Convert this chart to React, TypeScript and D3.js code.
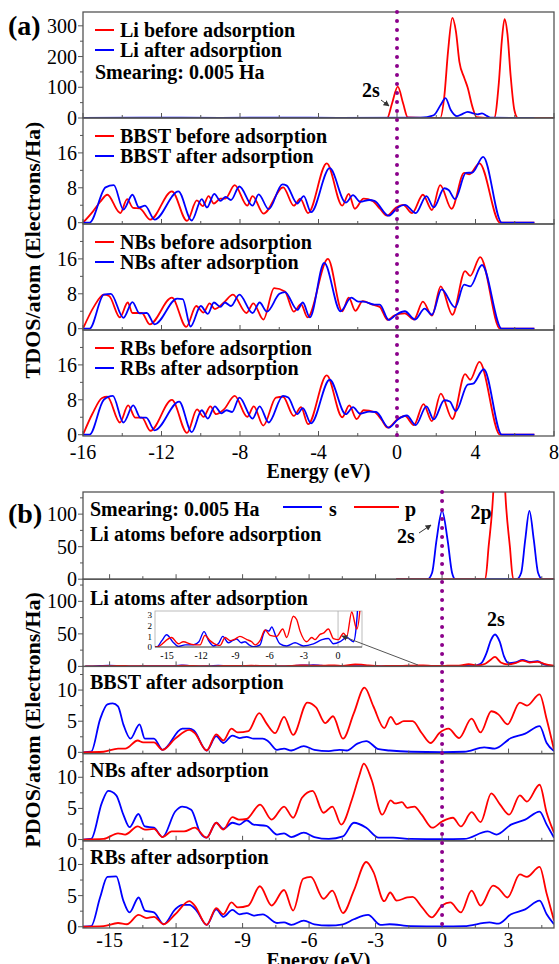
import React from 'react'
import * as d3 from 'd3'

type Pt = [number, number]

// ---------- (a) total DOS, [energy eV, electrons/Ha] ----------
const liBeforeTdos: Pt[] = [
  [-16, 0], [-0.5, 0], [-0.25, 48], [0.04, 102], [0.31, 48], [0.55, 2], [2.2, 0], [2.41, 70],
  [2.6, 216], [2.82, 326], [3.0, 283], [3.18, 183], [3.42, 132], [3.6, 99], [3.84, 37], [4.06, 3],
  [4.95, 0], [5.19, 115], [5.34, 250], [5.48, 322], [5.63, 272], [5.79, 138], [5.98, 26], [6.16, 0], [8, 0],
]
const liAfterTdos: Pt[] = [
  [-16, 0], [-13, 1], [-9, 0.5], [-6, 1.5], [-3, 0.5], [1.2, 1], [1.87, 9], [2.23, 43], [2.47, 65],
  [2.74, 26], [3.05, 6], [3.3, 12], [3.6, 20], [3.88, 15], [4.1, 12], [4.33, 15], [4.6, 6], [4.8, 1], [7, 0],
]
const bbstBefore: Pt[] = [
  [-16, 0], [-15.49, 2.6], [-15.12, 4.8], [-14.76, 6.4], [-14.21, 2.6], [-14.1, 2.2], [-13.75, 5.4],
  [-13.45, 3.4], [-13.11, 3.3], [-12.57, 0.7], [-11.47, 7.2], [-10.7, 0.4], [-10.2, 5.1], [-9.9, 3.8],
  [-9.6, 6.1], [-9.33, 4.4], [-9.0, 5.5], [-8.75, 5.5], [-8.27, 8.6], [-7.63, 3.9], [-7.36, 6.1],
  [-6.8, 2.1], [-5.8, 8.1], [-5.26, 3.9], [-4.93, 5.5], [-4.53, 2.2], [-3.58, 13.6], [-2.79, 3.9],
  [-2.46, 6.6], [-2.15, 3.2], [-1.7, 5.5], [-1.25, 5], [-0.87, 3.2], [-0.51, 1.6], [-0.05, 3.5],
  [0.31, 4.1], [0.77, 2.2], [1.32, 6.4], [1.78, 2.9], [2.2, 8.6], [2.78, 3.2], [3.42, 11.4],
  [3.69, 11.1], [4.2, 13.6], [5.25, 0], [7, 0],
]
const bbstAfter: Pt[] = [
  [-16, 0], [-15.67, 0], [-14.85, 8.1], [-14.43, 8.6], [-13.94, 3], [-13.48, 6.4], [-13.15, 3.5],
  [-12.84, 3.9], [-12.35, 0.7], [-11.14, 7.2], [-10.46, 0.5], [-9.95, 5.4], [-9.68, 3.5], [-9.31, 6.6],
  [-9.0, 5], [-8.73, 5.9], [-8.46, 5.2], [-8.03, 8.3], [-7.36, 3.9], [-7.05, 6.5], [-6.54, 3.1],
  [-5.84, 8.8], [-5.62, 8.5], [-5.08, 4.4], [-4.75, 6.1], [-4.38, 2.4], [-3.43, 12.5], [-2.61, 4.6],
  [-2.24, 6.3], [-1.88, 4.8], [-1.42, 5.2], [-1.15, 5], [-0.42, 1.6], [0.04, 3.5], [0.4, 4.1],
  [0.95, 2.2], [1.5, 6.1], [1.87, 3.5], [2.41, 7.9], [2.63, 7.5], [2.96, 5.4], [3.51, 11.4],
  [3.84, 11.5], [4.39, 15.1], [5.34, 0], [7, 0],
]
const nbsBefore: Pt[] = [
  [-16, 0], [-15.45, 5], [-14.94, 7.8], [-14.67, 7.5], [-14.12, 2.6], [-13.72, 6], [-13.48, 3.6],
  [-13.0, 3.6], [-12.6, 1.0], [-11.47, 7.1], [-10.74, 0.4], [-10.23, 5.2], [-9.86, 3.7], [-9.55, 5.8],
  [-9.28, 4.5], [-8.82, 6], [-8.36, 7.8], [-7.67, 3.6], [-7.32, 5.8], [-6.81, 2.1], [-6.26, 9.3],
  [-5.71, 8.5], [-5.26, 3.9], [-4.89, 5.6], [-4.56, 2.6], [-3.52, 16], [-2.79, 4], [-2.46, 7.1],
  [-2.12, 4.1], [-1.75, 6.3], [-1.24, 5.5], [-0.88, 5], [-0.47, 2], [-0.14, 3], [0.4, 3.5],
  [0.86, 2.1], [1.32, 6.2], [1.78, 3], [2.23, 9.7], [2.82, 3.2], [3.47, 13.2], [3.73, 12.1],
  [4.24, 16.4], [5.25, 0], [7, 0],
]
const nbsAfter: Pt[] = [
  [-16, 0], [-15.67, 0], [-14.94, 7.8], [-14.58, 8], [-13.94, 2.5], [-13.48, 6.1], [-13.12, 3.5],
  [-12.75, 3.6], [-12.35, 1], [-11.2, 6.9], [-10.92, 6.8], [-10.52, 0.5], [-10.0, 5.2], [-9.64, 3.4],
  [-9.33, 6], [-9.0, 5], [-8.77, 6], [-8.46, 5.2], [-8.03, 7.8], [-7.36, 3.6], [-7.0, 6], [-6.63, 3.9],
  [-5.99, 8], [-5.71, 8.4], [-5.08, 4.3], [-4.8, 6], [-4.44, 2.6], [-3.71, 15.1], [-2.88, 4],
  [-2.33, 7.1], [-1.97, 6.2], [-1.7, 6.2], [-1.15, 5.5], [-0.88, 5.5], [-0.42, 2], [-0.05, 3.2],
  [0.4, 4], [0.92, 2.1], [1.41, 4.6], [1.78, 3.2], [2.27, 9], [2.96, 4.9], [3.42, 10.1], [3.73, 9.7],
  [4.33, 14.6], [5.34, 0], [7, 0],
]
const rbsBefore: Pt[] = [
  [-16, 0], [-15.52, 4.8], [-15.03, 8.4], [-14.76, 8.7], [-14.12, 2.8], [-13.7, 6.7], [-13.33, 3.9],
  [-13.0, 3.9], [-12.57, 0.9], [-11.47, 8], [-10.7, 0.4], [-10.19, 5.8], [-9.86, 4.1], [-9.51, 6.5],
  [-9.22, 4.7], [-8.82, 5.8], [-8.27, 8.9], [-7.63, 4.1], [-7.3, 6.5], [-6.81, 2.1], [-6.17, 8.5],
  [-5.81, 8.7], [-5.26, 4.3], [-4.89, 6.3], [-4.53, 2.4], [-3.58, 13.6], [-2.79, 4], [-2.43, 6.7],
  [-2.06, 3.6], [-1.7, 5.6], [-1.15, 5.2], [-0.8, 3.5], [-0.47, 1.6], [0.04, 3.6], [0.4, 4.3],
  [0.86, 2.2], [1.35, 7], [1.78, 3.1], [2.23, 9.4], [2.82, 3.6], [3.47, 13.9], [3.73, 12.6],
  [4.2, 16.7], [5.25, 0], [7, 0],
]
const rbsAfter: Pt[] = [
  [-16, 0], [-15.67, 0], [-14.94, 8], [-14.48, 8.9], [-13.94, 2.8], [-13.44, 6.7], [-13.07, 3.9],
  [-12.78, 3.9], [-12.35, 1], [-11.1, 7.6], [-10.46, 0.6], [-9.95, 5.6], [-9.64, 3.7], [-9.28, 6.5],
  [-8.95, 4.9], [-8.69, 5.6], [-8.4, 5.2], [-8.03, 8.5], [-7.36, 3.7], [-7.0, 6.5], [-6.54, 2.8],
  [-5.81, 8.9], [-5.54, 8.5], [-5.08, 4.7], [-4.8, 6.1], [-4.38, 2.6], [-3.43, 12.6], [-2.61, 4.7],
  [-2.24, 6.3], [-1.88, 4.8], [-1.42, 5.3], [-1.06, 5.2], [-0.42, 1.6], [0.04, 3.5], [0.5, 4.4],
  [0.95, 2.2], [1.5, 6.5], [1.87, 3.5], [2.41, 7.9], [2.69, 7.6], [3.0, 5.4], [3.6, 11.5],
  [3.88, 11.7], [4.42, 15], [5.34, 0], [7, 0],
]

// ---------- (b) partial DOS: s (blue) and p (red) ----------
const liBeforeS: Pt[] = [
  [-2.07, 0], [-0.66, 0], [-0.45, 10], [-0.25, 60], [0, 105], [0.25, 60], [0.45, 10], [0.6, 0],
  [3.36, 0], [3.57, 10], [3.75, 60], [3.94, 105], [4.14, 60], [4.33, 10], [4.53, 0], [5.05, 0],
]
const liBeforeP: Pt[] = [
  [-2.07, 0], [1.95, 0], [2.1, 50], [2.31, 134], [2.45, 250], [2.58, 320], [2.71, 250], [2.85, 134],
  [3.06, 50], [3.21, 0], [5.05, 0],
]
const liAfterS: Pt[] = [
  [-16.1, 0], [-15.9, 0], [-15.45, 0.6], [-15.03, 1.15], [-14.5, 0.5], [-14.0, 0.05], [-13.4, 0.2],
  [-12.7, 0.2], [-12.2, 0.5], [-11.75, 1.45], [-11.35, 0.6], [-10.93, 0.1], [-10.5, 0.3], [-10.1, 1.0],
  [-9.62, 0.4], [-9.25, 0.6], [-8.89, 0.75], [-8.5, 0.4], [-8.16, 0.5], [-7.8, 0.2], [-7.43, 0.02],
  [-6.84, 0.2], [-6.55, 1.2], [-6.34, 1.6], [-6.05, 1.5], [-5.82, 1.9], [-5.45, 1.0], [-5.09, 0.3],
  [-4.5, 0.1], [-3.77, 0.4], [-3.04, 0.1], [-2.16, 0.3], [-1.4, 0.7], [-0.85, 0.8], [-0.41, 0.3],
  [0.18, 0.5], [0.76, 0.9], [1.35, 0.5], [1.6, 2], [1.8, 6], [2.0, 20], [2.2, 40], [2.39, 49],
  [2.6, 38], [2.8, 15], [3.0, 5], [3.3, 6], [3.63, 10], [3.95, 7], [4.31, 8], [4.6, 3], [5.05, 0.5],
]
const liAfterP: Pt[] = [
  [-16.1, 0], [-15.9, 0], [-14.6, 0.9], [-14.0, 0.3], [-13.57, 0.5], [-12.83, 0.25], [-12.1, 0.2],
  [-11.67, 1.1], [-11.23, 0.6], [-10.64, 0.2], [-10.35, 0.15], [-9.9, 0.9], [-9.47, 0.6], [-9.03, 0.75],
  [-8.6, 1.0], [-8.0, 0.7], [-7.57, 0.5], [-7.28, 0.2], [-6.84, 0.6], [-6.4, 1.6], [-5.96, 1.1],
  [-5.38, 1.0], [-4.85, 1.7], [-4.5, 0.9], [-3.92, 2.9], [-3.63, 2.6], [-3.33, 1.5], [-2.75, 0.5],
  [-2.31, 0.9], [-2.02, 0.7], [-1.58, 1.2], [-1.29, 1.3], [-0.85, 1.7], [-0.41, 0.8], [0.03, 0.7],
  [0.47, 1.3], [0.76, 1.0], [1.2, 3.3], [1.64, 1.7], [1.95, 4], [2.15, 9], [2.39, 14.5], [2.65, 6],
  [2.95, 3], [3.3, 5], [3.63, 9], [3.95, 6], [4.31, 7], [4.6, 4], [5.05, 1],
]
const bbstS: Pt[] = [
  [-16.2, 0], [-15.83, 0.1], [-15.43, 5.3], [-15.1, 7.7], [-14.86, 7.85], [-14.62, 7.4], [-14.38, 4.5],
  [-14.06, 2.2], [-13.65, 4.5], [-13.41, 2.2], [-13.0, 2.2], [-12.61, 0.4], [-11.72, 3.8], [-11.4, 3.8],
  [-11.2, 3.5], [-10.62, 0.3], [-10.19, 2.6], [-9.87, 1.5], [-9.46, 2.7], [-9.14, 2.3], [-8.82, 2.5],
  [-8.5, 2.2], [-8.09, 2.2], [-7.85, 1.8], [-7.45, 0.4], [-7.13, 0.6], [-6.8, 0.3], [-6.24, 1.0],
  [-5.76, 0.4], [-5.11, 0.2], [-4.63, 0.4], [-4.3, 0.3], [-3.82, 1.4], [-3.42, 1.8], [-2.86, 0.5],
  [-2.37, 0.3], [-1.4, 0.1], [0, 0.05], [1.0, 0.1], [1.9, 0.8], [2.38, 0.6], [3.11, 2.3], [3.75, 3.0],
  [4.4, 4.2], [4.72, 1.5], [5.05, 0.2],
]
const bbstP: Pt[] = [
  [-16.2, 0], [-15.27, 0.1], [-14.62, 0.6], [-14.3, 0.6], [-13.73, 1.9], [-13.49, 1.6], [-13.0, 1.6],
  [-12.61, 0.4], [-12.04, 2.2], [-11.4, 3.6], [-11.16, 3.1], [-10.62, 0.3], [-10.19, 2.9], [-9.87, 1.9],
  [-9.5, 3.8], [-9.22, 3.2], [-8.74, 3.4], [-8.25, 6.3], [-7.93, 4.7], [-7.53, 3.1], [-7.13, 5.7],
  [-6.72, 2.8], [-6.08, 8.0], [-5.68, 7.2], [-5.27, 4.7], [-4.92, 5.8], [-4.47, 2.2], [-3.98, 6.3],
  [-3.5, 10.4], [-3.1, 7.4], [-2.61, 3.9], [-2.32, 5.7], [-2.05, 4.5], [-1.73, 5], [-1.33, 5],
  [-0.92, 3.1], [-0.52, 1.5], [-0.12, 3.1], [0.29, 3.8], [0.77, 2.3], [1.33, 5.4], [1.74, 3.2],
  [2.22, 6.6], [2.54, 6.1], [2.95, 4.5], [3.51, 8.0], [3.83, 7.5], [4.4, 9.3], [4.72, 5.3], [5.05, 0.4],
]
const nbsS: Pt[] = [
  [-16.2, 0], [-15.83, 0.1], [-15.35, 5.9], [-15.06, 7.8], [-14.7, 7.1], [-14.38, 4], [-14.1, 2],
  [-13.7, 4.1], [-13.41, 2.1], [-13.0, 1.9], [-12.61, 0.4], [-12.04, 4.5], [-11.72, 5.3], [-11.32, 4.8],
  [-10.91, 1.1], [-10.62, 0.3], [-10.19, 2.7], [-9.87, 1.7], [-9.46, 2.7], [-9.14, 2.4], [-8.82, 3.1],
  [-8.5, 2.4], [-7.93, 2.2], [-7.45, 0.8], [-7.13, 1.0], [-6.8, 0.4], [-6.24, 1.1], [-5.76, 0.4],
  [-5.11, 0.1], [-4.47, 0.5], [-3.98, 2.7], [-3.42, 1.9], [-2.86, 0.3], [-2.21, 0.3], [-1.41, 0.1],
  [0, 0.05], [1.0, 0.1], [2.06, 1.3], [2.46, 0.8], [3.11, 2.4], [3.75, 3.2], [4.4, 4.5], [4.72, 2.4],
  [5.05, 0.3],
]
const nbsP: Pt[] = [
  [-16.2, 0], [-15.27, 0.1], [-14.62, 1.0], [-14.3, 0.8], [-13.73, 2.1], [-13.41, 1.6], [-13.0, 1.7],
  [-12.61, 0.4], [-12.2, 1.3], [-11.64, 1.3], [-11.16, 1.9], [-10.62, 0.3], [-10.19, 2.7], [-9.87, 1.6],
  [-9.46, 3.6], [-9.17, 3.2], [-8.82, 3.3], [-8.21, 5.6], [-7.69, 3.2], [-7.13, 5.3], [-6.72, 3.5],
  [-6.32, 6.7], [-5.84, 7.8], [-5.35, 4.3], [-4.95, 5.3], [-4.55, 2.4], [-4.07, 6.4], [-3.74, 10.2],
  [-3.53, 12.2], [-3.18, 9.6], [-2.7, 4], [-2.32, 6.3], [-2.13, 5.8], [-1.81, 6.0], [-1.57, 5.1],
  [-1.25, 5.3], [-0.92, 4], [-0.44, 1.9], [0, 2.9], [0.49, 3.5], [0.85, 2.1], [1.33, 4.4], [1.74, 2.8],
  [2.22, 7.4], [2.62, 5.6], [3.03, 4], [3.51, 7.1], [3.83, 6.1], [4.4, 8.8], [4.72, 4.3], [5.05, 1.1],
]
const rbsS: Pt[] = [
  [-16.2, 0], [-15.83, 0.1], [-15.43, 4.7], [-15.1, 8.0], [-14.7, 8.1], [-14.38, 4.2], [-14.1, 2.3],
  [-13.69, 4.7], [-13.41, 2.6], [-13.0, 2.3], [-12.56, 0.4], [-12.04, 2.8], [-11.72, 3.5], [-11.4, 3.5],
  [-11.08, 2.6], [-10.62, 0.3], [-10.19, 2.8], [-9.87, 1.6], [-9.46, 2.7], [-9.14, 2.0], [-8.82, 2.2],
  [-8.5, 1.8], [-8.09, 2.0], [-7.45, 0.6], [-7.13, 0.7], [-6.8, 0.3], [-6.24, 1.0], [-5.76, 0.4],
  [-5.11, 0.2], [-4.47, 0.4], [-3.98, 1.2], [-3.34, 1.9], [-2.78, 0.3], [-2.37, 0.4], [-1.41, 0.1],
  [0, 0.05], [1.0, 0.1], [2.14, 0.7], [2.54, 0.5], [3.11, 2.0], [3.75, 2.8], [4.4, 4.2], [4.72, 2.0],
  [5.05, 0.4],
]
const rbsP: Pt[] = [
  [-16.2, 0], [-15.27, 0.1], [-14.62, 0.6], [-14.22, 0.4], [-13.69, 1.9], [-13.33, 1.4], [-13.0, 1.6],
  [-12.56, 0.4], [-12.04, 2.0], [-11.4, 4.1], [-11.16, 3.4], [-10.62, 0.3], [-10.19, 3.0], [-9.87, 2.0],
  [-9.5, 3.9], [-9.22, 3.1], [-8.74, 3.4], [-8.22, 6.5], [-7.69, 3.4], [-7.13, 5.9], [-6.72, 2.6],
  [-6.27, 7.7], [-5.92, 8.0], [-5.35, 4.5], [-4.95, 5.8], [-4.47, 2.2], [-3.98, 5.8], [-3.42, 10.4],
  [-3.1, 8.8], [-2.61, 4.1], [-2.34, 5.5], [-2.05, 4.2], [-1.57, 4.7], [-1.33, 4.8], [-0.92, 3.2],
  [-0.47, 1.5], [0, 3.4], [0.37, 3.9], [0.85, 2.3], [1.33, 5.8], [1.74, 3.4], [2.3, 6.6], [2.54, 6.2],
  [2.95, 4.7], [3.51, 8.4], [3.83, 8.0], [4.4, 9.6], [4.72, 5.3], [5.05, 1.0],
]

// ---------- ticks and labels ----------
const energyTicksA = [-16, -12, -8, -4, 0, 4, 8]
const energyMinorA = [-14, -10, -6, -2, 2, 6]
const energyTicksB = [-15, -12, -9, -6, -3, 0, 3]
const energyMinorB = [-13.5, -10.5, -7.5, -4.5, -1.5, 1.5, 4.5]
const insetTicksX = [-15, -12, -9, -6, -3, 0]
const insetTicksY = [0, 1, 2, 3]
const liTicksA = [0, 100, 200, 300]
const liMinorA = [50, 150, 250]
const tdosTicks = [0, 8, 16]
const tdosMinor = [4, 12, 20]
const liTicksB = [0, 50, 100]
const liMinorB = [25, 75, 125]
const pdosTicks = [0, 5, 10]
const pdosMinor = [2.5, 7.5, 12.5]
const systemsA = ['Li', 'BBST', 'NBs', 'RBs']
const titlesB = ['Li atoms before adsorption', 'Li atoms after adsorption', 'BBST after adsorption', 'NBs after adsorption', 'RBs after adsorption']

const SERIF = "'Liberation Serif', 'Times New Roman', Times, serif"
const RED = '#ff0000'
const BLUE = '#0000ff'
const PURPLE = '#8b008b'
const FRAME = '#555'
const X0 = 83
const X1 = 554

type Scale = d3.ScaleLinear<number, number>

function Curve({ data, x, y, color, width = 1.8 }: { data: Pt[]; x: Scale; y: Scale; color: string; width?: number }) {
  const gen = d3.line<Pt>().x((d) => x(d[0])).y((d) => y(d[1])).curve(d3.curveMonotoneX)
  return <path d={gen(data) ?? ''} fill="none" stroke={color} strokeWidth={width} strokeLinejoin="round" />
}

interface SubProps {
  id: string
  x: Scale
  top: number
  h: number
  domain: [number, number]
  ticks: number[]
  minor: number[]
  xMajor: number[]
  xMinor: number[]
  lines: { data: Pt[]; color: string }[]
  xLabelY?: number
}

function Subplot({ id, x, top, h, domain, ticks, minor, xMajor, xMinor, lines, xLabelY }: SubProps) {
  const y = d3.scaleLinear().domain(domain).range([top + h, top])
  const bottom = top + h
  return (
    <g>
      <clipPath id={id}>
        <rect x={X0} y={top} width={X1 - X0} height={h} />
      </clipPath>
      <g clipPath={`url(#${id})`}>
        {lines.map((l, i) => (
          <Curve key={i} data={l.data} x={x} y={y} color={l.color} />
        ))}
      </g>
      <rect x={X0} y={top} width={X1 - X0} height={h} fill="none" stroke={FRAME} strokeWidth={1.3} />
      {xMajor.map((t) => (
        <line key={'M' + t} x1={x(t)} x2={x(t)} y1={bottom} y2={bottom - 5} stroke={FRAME} strokeWidth={1} />
      ))}
      {xMinor.map((t) => (
        <line key={'m' + t} x1={x(t)} x2={x(t)} y1={bottom} y2={bottom - 3} stroke={FRAME} strokeWidth={1} />
      ))}
      {ticks.map((t) => (
        <g key={'y' + t}>
          <line x1={X0 - 5} x2={X0} y1={y(t)} y2={y(t)} stroke={FRAME} strokeWidth={1} />
          <text x={X0 - 6} y={y(t)} dy="0.35em" textAnchor="end" fontSize={20}>
            {t}
          </text>
        </g>
      ))}
      {minor.map((t) => (
        <line key={'ym' + t} x1={X0 - 3} x2={X0} y1={y(t)} y2={y(t)} stroke={FRAME} strokeWidth={1} />
      ))}
      {xLabelY !== undefined &&
        xMajor.map((t) => (
          <text key={'xl' + t} x={x(t)} y={xLabelY} dy="0.35em" textAnchor="middle" fontSize={20}>
            {t}
          </text>
        ))}
    </g>
  )
}

function Legend({ top, before, after }: { top: number; before: string; after: string }) {
  return (
    <g fontWeight="bold" fontSize={20}>
      <line x1={95} x2={114} y1={top} y2={top} stroke={RED} strokeWidth={2} />
      <text x={120} y={top} dy="0.35em">{before}</text>
      <line x1={95} x2={114} y1={top + 20} y2={top + 20} stroke={BLUE} strokeWidth={2} />
      <text x={120} y={top + 20} dy="0.35em">{after}</text>
    </g>
  )
}

export default function App() {
  const xA = d3.scaleLinear().domain([-16, 8]).range([X0, X1])
  const xB = d3.scaleLinear().domain([-16.2, 5.05]).range([X0, X1])
  const aTop = 12
  const aH = 106
  const bTop = 492
  const bH = 87.2

  const tdosPairs: [Pt[], Pt[]][] = [
    [liBeforeTdos, liAfterTdos],
    [bbstBefore, bbstAfter],
    [nbsBefore, nbsAfter],
    [rbsBefore, rbsAfter],
  ]
  const pdosPairs: [Pt[], Pt[]][] = [
    [liBeforeS, liBeforeP],
    [liAfterS, liAfterP],
    [bbstS, bbstP],
    [nbsS, nbsP],
    [rbsS, rbsP],
  ]

  // inset of Li after adsorption
  const inTop = 611
  const inBot = 647
  const xIn = d3.scaleLinear().domain([-16.05, 2.1]).range([155, 362])
  const yIn = d3.scaleLinear().domain([0, 3.4]).range([inBot, inTop])

  return (
    <svg width={559} height={964} style={{ position: 'absolute', left: 0, top: 0, background: '#fff', fontFamily: SERIF }}>
      <defs>
        <marker id="arr" viewBox="0 0 10 10" refX="9" refY="5" markerWidth="6" markerHeight="6" orient="auto">
          <path d="M0,0 L10,5 L0,10 z" fill="#333" />
        </marker>
      </defs>

      {/* ---------- panel (a) ---------- */}
      {tdosPairs.map(([red, blue], i) => (
        <Subplot
          key={'a' + i}
          id={'ca' + i}
          x={xA}
          top={aTop + i * aH}
          h={aH}
          domain={i === 0 ? [0, 345] : [-0.3, 24]}
          ticks={i === 0 ? liTicksA : tdosTicks}
          minor={i === 0 ? liMinorA : tdosMinor}
          xMajor={energyTicksA}
          xMinor={energyMinorA}
          lines={[{ data: red, color: RED }, { data: blue, color: BLUE }]}
          xLabelY={i === 3 ? 452 : undefined}
        />
      ))}
      {systemsA.map((s, i) => (
        <Legend key={s} top={aTop + i * aH + 18} before={`${s} before adsorption`} after={`${s} after adsorption`} />
      ))}
      <text x={95} y={72} dy="0.35em" fontSize={20} fontWeight="bold">Smearing: 0.005 Ha</text>
      <line x1={xA(0)} x2={xA(0)} y1={aTop} y2={aTop + 4 * aH} stroke={PURPLE} strokeWidth={4} strokeDasharray="0 9" strokeLinecap="round" />
      <text x={8} y={25} dy="0.35em" fontSize={28} fontWeight="bold">(a)</text>
      <text x={371} y={90} dy="0.35em" textAnchor="middle" fontSize={20} fontWeight="bold">2s</text>
      <line x1={381} y1={100} x2={389} y2={106} stroke="#333" strokeWidth={1} markerEnd="url(#arr)" />
      <text transform="translate(32,250) rotate(-90)" textAnchor="middle" dy="0.35em" fontSize={22} fontWeight="bold">
        TDOS/atom (Electrons/Ha)
      </text>
      <text x={(X0 + X1) / 2} y={471} dy="0.35em" textAnchor="middle" fontSize={20} fontWeight="bold">Energy (eV)</text>

      {/* ---------- panel (b) ---------- */}
      {pdosPairs.map(([s, p], i) => (
        <Subplot
          key={'b' + i}
          id={'cb' + i}
          x={xB}
          top={bTop + i * bH}
          h={bH}
          domain={i < 2 ? [0, 134] : [-0.2, 13.8]}
          ticks={i < 2 ? liTicksB : pdosTicks}
          minor={i < 2 ? liMinorB : pdosMinor}
          xMajor={energyTicksB}
          xMinor={energyMinorB}
          lines={[{ data: s, color: BLUE }, { data: p, color: RED }]}
          xLabelY={i === 4 ? 940 : undefined}
        />
      ))}
      {titlesB.map((t, i) => (
        <text key={t} x={90} y={i === 0 ? 534 : bTop + i * bH + (i === 1 ? 19 : 16)} dy="0.35em" fontSize={20} fontWeight="bold">
          {t}
        </text>
      ))}
      <g fontSize={20} fontWeight="bold">
        <text x={90} y={509} dy="0.35em">Smearing: 0.005 Ha</text>
        <line x1={283} x2={322} y1={507} y2={507} stroke={BLUE} strokeWidth={2} />
        <text x={329} y={509} dy="0.35em">s</text>
        <line x1={354} x2={399} y1={507} y2={507} stroke={RED} strokeWidth={2} />
        <text x={405} y={509} dy="0.35em">p</text>
        <text x={406} y={536} dy="0.35em" textAnchor="middle">2s</text>
        <text x={481} y={512} dy="0.35em" textAnchor="middle">2p</text>
        <text x={496} y={619} dy="0.35em" textAnchor="middle">2s</text>
      </g>
      <line x1={419} y1={533} x2={431} y2={525} stroke="#333" strokeWidth={1} markerEnd="url(#arr)" />
      <line x1={xB(0)} x2={xB(0)} y1={bTop} y2={bTop + 5 * bH} stroke={PURPLE} strokeWidth={4} strokeDasharray="0 9" strokeLinecap="round" />
      <text x={8} y={513} dy="0.35em" fontSize={28} fontWeight="bold">(b)</text>
      <text transform="translate(32,720) rotate(-90)" textAnchor="middle" dy="0.35em" fontSize={22} fontWeight="bold">
        PDOS/atom (Electrons/Ha)
      </text>
      <text x={(X0 + X1) / 2} y={960} dy="0.35em" textAnchor="middle" fontSize={20} fontWeight="bold">Energy (eV)</text>

      {/* inset */}
      <g>
        <clipPath id="cin">
          <rect x={155} y={inTop} width={207} height={inBot - inTop} />
        </clipPath>
        <rect x={155} y={inTop} width={207} height={inBot - inTop} fill="#fff" stroke="#aaa" strokeWidth={0.8} />
        <line x1={xIn(0)} x2={xIn(0)} y1={inTop} y2={inBot} stroke="#aaa" strokeWidth={0.8} />
        <g clipPath="url(#cin)">
          <Curve data={liAfterS} x={xIn} y={yIn} color={BLUE} width={1.4} />
          <Curve data={liAfterP} x={xIn} y={yIn} color={RED} width={1.4} />
        </g>
        <line x1={155} x2={362} y1={inBot} y2={inBot} stroke="#333" strokeWidth={0.8} />
        {insetTicksX.map((t) => (
          <text key={'ix' + t} x={xIn(t)} y={inBot + 8} dy="0.35em" textAnchor="middle" fontSize={10}>
            {t}
          </text>
        ))}
        {insetTicksY.map((t) => (
          <text key={'iy' + t} x={152} y={yIn(t)} dy="0.35em" textAnchor="end" fontSize={9}>
            {t}
          </text>
        ))}
      </g>
      <line x1={418} y1={665} x2={342} y2={636} stroke="#555" strokeWidth={1} markerEnd="url(#arr)" />
    </svg>
  )
}
